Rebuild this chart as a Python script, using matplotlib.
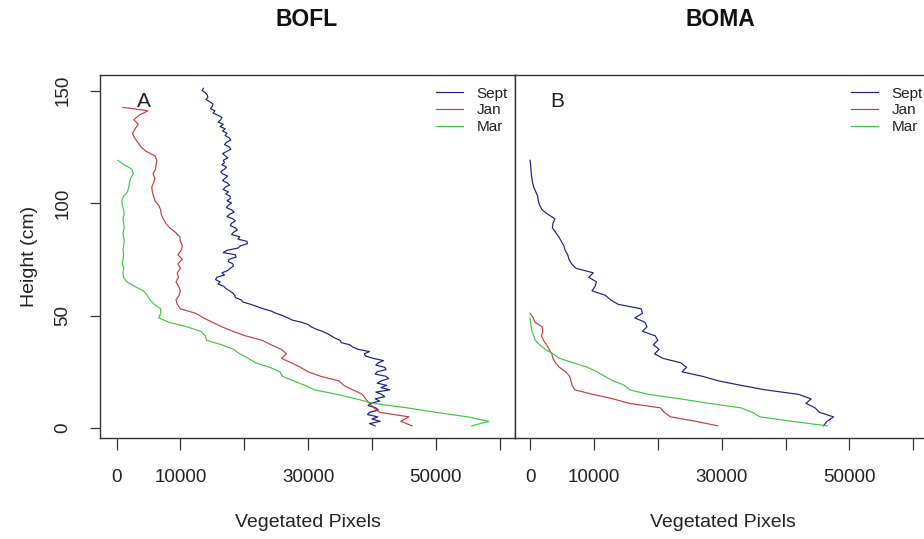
import matplotlib
matplotlib.use("Agg")
import matplotlib.pyplot as plt

plt.rcParams['font.family'] = ['Liberation Sans', 'DejaVu Sans']

# ---------------- data ----------------
series_names = ["Sept", "Jan", "Mar"]
series_colors = ["#1c1c8c", "#c43c3c", "#3cc83c"]

# Panel A : BOFL  (heights 1..151 cm)
bofl_sept_h = list(range(1, 152))
bofl_sept_v = [40500, 39600, 41300, 40000, 40900, 39300, 39600, 41000, 40600, 39400,
               39800, 41200, 40500, 42000, 41500, 40600, 42800, 41400, 42300, 40800,
               41500, 42600, 42200, 40500, 40800, 42200, 42000, 40600, 41000, 41800,
               40200, 39000, 38800, 39600, 37800, 37000, 36500, 35200, 35000, 34200,
               33600, 33000, 32200, 31200, 30500, 30000, 29000, 27500, 26800, 26000,
               25000, 24200, 23000, 22000, 21000, 19800, 19500, 18600, 18500, 18200,
               17700, 17100, 16800, 15900, 16200, 15500, 15700, 16900, 16500, 17400,
               17800, 18300, 18200, 17500, 17600, 18700, 18600, 16700, 17300, 19000,
               19400, 20500, 20400, 19000, 19300, 18000, 18300, 18900, 18600, 17800,
               18000, 18600, 18200, 17300, 17700, 18400, 18000, 17200, 17500, 18000,
               17300, 17800, 17800, 17100, 17500, 16700, 17000, 17700, 17300, 16600,
               17000, 17400, 16600, 16300, 16900, 17200, 16500, 16900, 16700, 17400,
               17000, 16600, 17300, 17900, 17600, 16900, 17200, 17900, 17600, 17000,
               17300, 16600, 17000, 16200, 16700, 15900, 16300, 16500, 15900, 15100,
               15400, 14700, 15000, 15100, 14600, 14000, 14300, 14200, 13900, 13400,
               13600]

bofl_jan_h = [1, 3, 5, 7, 9, 11, 13, 15, 17, 19, 21, 23, 25, 27, 29, 31, 33, 35, 37, 39,
              41, 43, 45, 47, 49, 51, 53, 55, 57, 59, 61, 63, 65, 67, 69, 71, 73, 75, 77, 79,
              81, 83, 85, 87, 89, 91, 93, 95, 97, 99, 101, 103, 105, 107, 109, 111, 113, 115,
              117, 119, 121, 123, 125, 127, 129, 131, 133, 135, 137, 139, 141, 142.5]
bofl_jan_v = [46300, 44500, 45800, 41200, 40300, 39600, 39000, 38500, 37000, 35600,
              34800, 32000, 30000, 28800, 27400, 25800, 26600, 25800, 24200, 22800,
              20200, 18200, 16500, 15000, 13600, 12400, 10000, 9500, 9300, 9800,
              10000, 9700, 9300, 9700, 9500, 10000, 9600, 10300, 9600, 10100,
              10300, 10000, 9900, 9200, 8300, 7700, 7300, 7000, 6900, 6600,
              6000, 5800, 5600, 5500, 5800, 6000, 5700, 6100, 6200, 6300,
              6000, 4600, 3800, 3300, 2800, 2500, 2900, 3400, 2700, 3500,
              4900, 1000]

bofl_mar_h = [1, 3, 5, 7, 9, 11, 13, 15, 17, 19, 21, 23, 25, 27, 29, 31, 33, 35, 37, 39,
              41, 43, 45, 47, 49, 51, 53, 55, 57, 59, 61, 63, 65, 67, 69, 71, 73, 75, 77, 79,
              81, 83, 85, 87, 89, 91, 93, 95, 97, 99, 101, 103, 105, 107, 109, 111, 113, 115,
              117, 119]
bofl_mar_v = [55600, 58300, 55000, 50000, 45500, 40200, 37500, 34500, 31000, 29500,
              27700, 26000, 25600, 24000, 21800, 20600, 19300, 18300, 16500, 14100,
              13900, 13200, 11000, 8200, 6600, 6900, 6900, 5900, 5200, 4800,
              4200, 2800, 1600, 1100, 1000, 1100, 900, 1000, 1100, 1000,
              1100, 1200, 1100, 1000, 1200, 1100, 1000, 1200, 1100, 900,
              800, 1100, 1700, 1900, 2000, 2200, 2600, 2400, 1200, 200]

# Panel B : BOMA
boma_sept_h = [1, 3, 5, 7, 9, 11, 13, 15, 17, 19, 21, 23, 25, 27, 29, 31, 33, 35, 37, 39,
               41, 43, 45, 47, 49, 51, 53, 55, 57, 59, 61, 63, 65, 67, 69, 71, 73, 75, 77, 79,
               81, 83, 85, 87, 89, 91, 93, 95, 97, 99, 101, 103, 105, 107, 109, 111, 113, 115,
               117, 119]
boma_sept_v = [45900, 46500, 47500, 45300, 44600, 43200, 44000, 42000, 36800, 33000,
               29500, 27000, 23800, 24500, 23600, 20800, 19500, 20200, 19300, 20000,
               19600, 17600, 18300, 18000, 16400, 17600, 17400, 13800, 12600, 11800,
               9700, 10200, 10400, 9200, 9900, 7200, 6500, 6100, 5900, 5500,
               5300, 4900, 4500, 4000, 3500, 3600, 3900, 2800, 1900, 1500,
               1300, 1200, 900, 600, 400, 300, 200, 150, 100, 0]

boma_jan_h = [1, 3, 5, 7, 9, 11, 13, 15, 17, 19, 21, 23, 25, 27, 29, 31, 33, 35, 37, 39,
              41, 43, 45, 47, 49, 51]
boma_jan_v = [29400, 26000, 22000, 21000, 20400, 15500, 13000, 9800, 7000, 6600,
              6400, 6200, 5600, 4600, 4000, 3600, 3400, 3000, 2600, 2100,
              1800, 2000, 1900, 800, 500, 0]

boma_mar_h = [1, 3, 5, 7, 9, 11, 13, 15, 17, 19, 21, 23, 25, 27, 29, 31, 33, 35, 37, 39,
              41, 43, 45, 47, 49]
boma_mar_v = [46500, 41000, 36000, 34800, 33000, 28000, 23500, 18500, 15600, 14800,
              13000, 11700, 10500, 9000, 6800, 4600, 3600, 2400, 1500, 800,
              600, 300, 200, 100, 0]

panel_titles = ["BOFL", "BOMA"]
panel_letters = ["A", "B"]
x_ticks = [0, 10000, 20000, 30000, 40000, 50000, 60000]
x_ticklabels = ["0", "10000", "", "30000", "", "50000", ""]
y_ticks = [0, 50, 100, 150]
y_ticklabels = ["0", "50", "100", "150"]

panels = [
    [(bofl_sept_v, bofl_sept_h), (bofl_jan_v, bofl_jan_h), (bofl_mar_v, bofl_mar_h)],
    [(boma_sept_v, boma_sept_h), (boma_jan_v, boma_jan_h), (boma_mar_v, boma_mar_h)],
]

# ---------------- figure ----------------
W, H = 924, 539
fig = plt.figure(figsize=(W / 100, H / 100), dpi=100)

def px_rect(x0, y0, x1, y1):
    return [x0 / W, 1 - y1 / H, (x1 - x0) / W, (y1 - y0) / H]

axes_rects = [px_rect(100, 75, 515, 438), px_rect(515, 75, 930, 438)]
xlims = [(-2600, 62400), (-2350, 62600)]
edge = "#333333"

for i, ax_rect in enumerate(axes_rects):
    ax = fig.add_axes(ax_rect)
    for (v, h), name, col in zip(panels[i], series_names, series_colors):
        ax.plot(v, h, color=col, lw=0.85, label=name)
    ax.set_xlim(*xlims[i])
    ax.set_ylim(-4.4, 156.9)
    for sp in ax.spines.values():
        sp.set_color(edge)
        sp.set_linewidth(1.0)
    ax.set_xticks(x_ticks)
    ax.set_xticklabels(x_ticklabels)
    ax.tick_params(axis='x', length=8.5, width=0.9, color=edge, pad=14,
                   labelsize=13.5, labelcolor="#222222")
    if i == 0:
        ax.set_yticks(y_ticks)
        ax.set_yticklabels(y_ticklabels, rotation=90, va='center')
        ax.tick_params(axis='y', length=7.5, width=0.9, color=edge, pad=13,
                       labelsize=13.5, labelcolor="#222222")
        ax.set_ylabel("Height (cm)", fontsize=14, color="#222222", labelpad=12)
    else:
        ax.set_yticks([])
    ax.set_xlabel("Vegetated Pixels", fontsize=14, color="#222222", labelpad=20)
    ax.text(4200, 145, panel_letters[i], fontsize=15, color="#222222",
            ha='center', va='center')
    leg = ax.legend(loc='upper left', bbox_to_anchor=(0.8096, 0.968),
                    frameon=False, fontsize=11, handlelength=1.75,
                    handletextpad=0.9, labelspacing=0.18, borderpad=0,
                    borderaxespad=0)
    for t in leg.get_texts():
        t.set_color("#222222")

fig.text(307 / W, 1 - 20 / H, panel_titles[0], fontsize=16.5, fontweight='bold',
         ha='center', va='center', color="#111111")
fig.text(720 / W, 1 - 20 / H, panel_titles[1], fontsize=16.5, fontweight='bold',
         ha='center', va='center', color="#111111")

fig.savefig("out.png", dpi=100)
